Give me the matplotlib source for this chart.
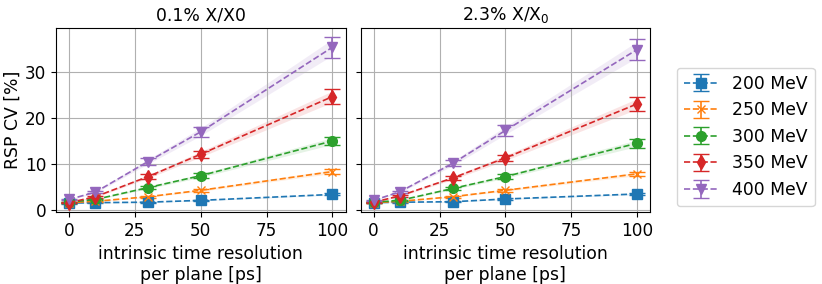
import numpy as np
import matplotlib.pyplot as plt

res = np.array([0, 10, 30, 50, 100])
energies = ['200 MeV', '250 MeV', '300 MeV', '350 MeV', '400 MeV']
markers = ['s', 'x', 'o', 'd', 'v']
colors = ['tab:blue', 'tab:orange', 'tab:green', 'tab:red', 'tab:purple']

# RSP CV [%] for 0.1% X/X0
cv_thin = [
    [1.4, 1.5, 1.6, 2.0, 3.3],
    [1.5, 1.8, 2.8, 4.2, 8.3],
    [1.6, 2.2, 4.8, 7.4, 15.0],
    [1.5, 2.8, 7.2, 12.1, 24.7],
    [2.2, 3.8, 10.5, 17.0, 35.5],
]
# RSP CV [%] for 2.3% X/X0
cv_thick = [
    [1.5, 1.6, 1.7, 2.3, 3.4],
    [1.5, 1.8, 2.8, 4.2, 7.8],
    [1.6, 2.0, 4.6, 7.2, 14.5],
    [1.6, 3.0, 6.9, 11.3, 23.1],
    [2.0, 3.9, 10.1, 17.3, 35.0],
]
titles = ['0.1% X/X0', r'2.3% X/X$_0$']

plt.rcParams['font.size'] = 12.4
plt.rcParams['xtick.labelsize'] = 12.2
plt.rcParams['ytick.labelsize'] = 12.2
fig, axes = plt.subplots(1, 2, figsize=(8.22, 2.84), dpi=100, sharey=True)

for ax, data, title in zip(axes, [cv_thin, cv_thick], titles):
    for vals, lab, m, c in zip(data, energies, markers, colors):
        vals = np.array(vals)
        err = 0.065 * vals
        band = 0.05 * vals
        ax.fill_between(res, vals - band, vals + band, color=c, alpha=0.12, lw=0)
        ax.errorbar(res, vals, yerr=err, fmt=m, ls='--', color=c,
                    ms=6 if m == 'x' else 7, capsize=6, label=lab, lw=1.2)
    ax.set_title(title, fontsize=12.4)
    ax.grid(True)
    ax.set_xticks([0, 25, 50, 75, 100])
    ax.set_xlabel('intrinsic time resolution\nper plane [ps]')
axes[0].set_ylabel('RSP CV [%]', labelpad=2)

handles, labels = axes[1].get_legend_handles_labels()
leg = fig.legend(handles, labels, loc='center left', bbox_to_anchor=(0.813, 0.518),
                 fontsize=12.4)
fig.subplots_adjust(left=0.068, right=0.791, top=0.9, bottom=0.254, wspace=0.052)
fig.savefig('out.png')
